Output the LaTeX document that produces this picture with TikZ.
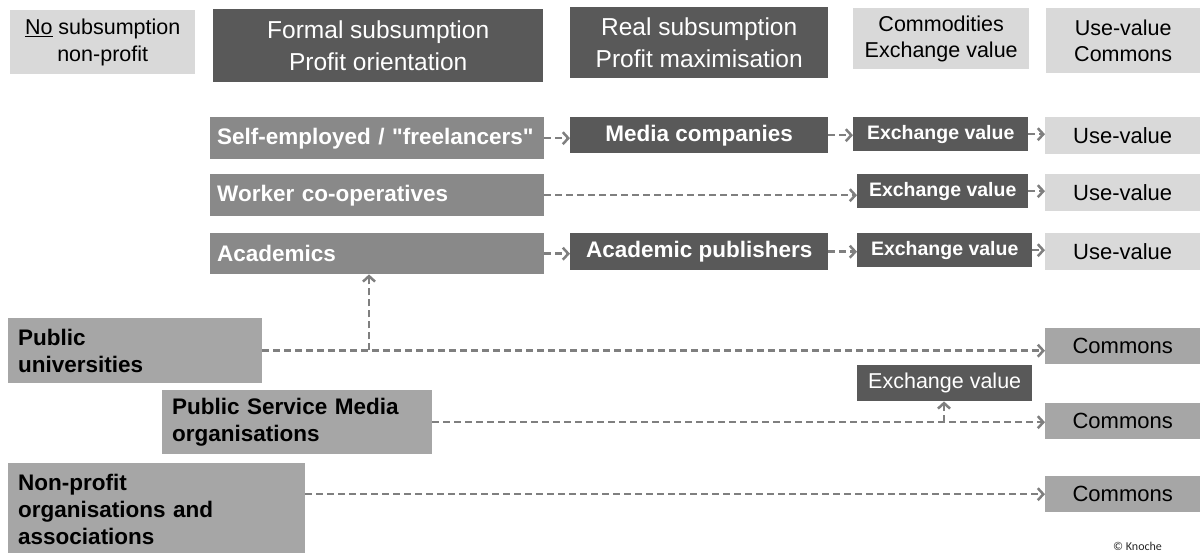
\documentclass[tikz,border=0pt]{standalone}
\usepackage{fontspec}
\setmainfont{Liberation Sans}[Ligatures=TeXOff]
\newfontfamily\carl{Carlito}
\usetikzlibrary{arrows.meta}
\definecolor{dk}{HTML}{595959}
\definecolor{md}{HTML}{898989}
\definecolor{lt}{HTML}{D9D9D9}
\definecolor{pb}{HTML}{A6A6A6}
\definecolor{ln}{HTML}{7F7F7F}
\begin{document}
\begin{tikzpicture}[x=1pt,y=-1pt,
  box/.style={draw=none, inner sep=0pt, anchor=north west},
  darkhead/.style={box, fill=dk, text=white, font=\fontsize{24.5}{32.5}\selectfont, align=center},
  lighthead/.style={box, fill=lt, text=black, font=\fontsize{21.5}{26.5}\selectfont, align=center},
  rowbox/.style={box, fill=md, text=white, font=\bfseries\fontsize{22.5}{27}\selectfont, align=left, inner xsep=7pt, text width=320pt},
  darkbox/.style={box, fill=dk, text=white, font=\bfseries\fontsize{22.5}{27}\selectfont},
  evbox/.style={box, fill=dk, text=white, font=\bfseries\fontsize{19.5}{24}\selectfont},
  usebox/.style={box, fill=lt, text=black, font=\fontsize{22}{26}\selectfont},
  combox/.style={box, fill=pb, text=black, font=\fontsize{22}{26}\selectfont},
  pubbox/.style={box, fill=pb, text=black, font=\bfseries\fontsize{22.5}{27}\selectfont, align=left, inner xsep=10pt},
  arr/.style={draw=ln, line width=2.5pt, dash pattern=on 7pt off 4pt, -{Straight Barb[length=5.5pt,width=12pt]}}
]
\useasboundingbox (0,0) rectangle (1200,553);

% header
\node[lighthead, minimum width=185pt, minimum height=64pt] (nosub) at (10,10) {\underline{No} subsumption\\non-profit};
\node[darkhead, minimum width=330pt, minimum height=73pt] (formal) at (213,9) {Formal subsumption\\Profit orientation};
\node[darkhead, minimum width=258pt, minimum height=71pt] (real) at (570,7) {Real subsumption\\Profit maximisation};
\node[lighthead, minimum width=176pt, minimum height=61pt] (commod) at (853,8) {Commodities\\Exchange value};
\node[lighthead, minimum width=154pt, minimum height=65pt] (usec) at (1046,8) {Use-value\\Commons};

% row 1
\node[rowbox, minimum width=334pt, minimum height=42pt] (se) at (210,117) {Self-employed / "freelancers"};
\node[darkbox, minimum width=258pt, minimum height=36pt] (mc) at (570,117) {Media companies};
\node[evbox, minimum width=175pt, minimum height=34pt] (ev1) at (853,117) {Exchange value};
\node[usebox, minimum width=155pt, minimum height=37pt] (uv1) at (1045,117) {Use-value};
% row 2
\node[rowbox, minimum width=334pt, minimum height=42pt] (wc) at (210,174) {Worker co-operatives};
\node[evbox, minimum width=171pt, minimum height=34pt] (ev2) at (857,174) {Exchange value};
\node[usebox, minimum width=155pt, minimum height=37pt] (uv2) at (1045,174) {Use-value};
% row 3
\node[rowbox, minimum width=334pt, minimum height=41pt] (ac) at (210,233) {Academics};
\node[darkbox, minimum width=258pt, minimum height=37pt] (ap) at (570,233) {Academic publishers};
\node[evbox, minimum width=175pt, minimum height=34pt] (ev3) at (857,233) {Exchange value};
\node[usebox, minimum width=155pt, minimum height=37pt] (uv3) at (1045,233) {Use-value};

% public / non-profit
\node[pubbox, minimum width=254pt, minimum height=65pt, text width=234pt] (pu) at (8,318) {Public\\universities};
\node[pubbox, minimum width=270pt, minimum height=64pt, text width=250pt] (psm) at (162,390) {Public Service Media\\organisations};
\node[pubbox, minimum width=297pt, minimum height=92pt, text width=277pt] (np) at (8,463) {Non-profit\\organisations and\\associations};
\node[combox, minimum width=155pt, minimum height=36pt] (c1) at (1045,328) {Commons};
\node[box, fill=dk, text=white, font=\fontsize{21.5}{26}\selectfont, minimum width=175pt, minimum height=36pt] (evp) at (857,365) {Exchange value};
\node[combox, minimum width=155pt, minimum height=36pt] (c2) at (1045,403) {Commons};
\node[combox, minimum width=155pt, minimum height=36pt] (c3) at (1045,476) {Commons};

\node[anchor=base west, inner sep=0pt, font=\carl\fontsize{12}{14}\selectfont, text=black!85] (copy) at (1113,550) {© Knoche};

% connectors
\draw[arr] (se.east) -- (se.east -| mc.west);
\draw[arr] (mc.east) -- (mc.east -| ev1.west);
\draw[arr] (ev1.east) -- (ev1.east -| uv1.west);
\draw[arr] (wc.east) -- (wc.east -| ev2.west);
\draw[arr] (ev2.east) -- (ev2.east -| uv2.west);
\draw[arr] (ac.east) -- (ac.east -| ap.west);
\draw[arr] (ap.east) -- (ap.east -| ev3.west);
\draw[arr] (ev3.east) -- (ev3.east -| uv3.west);

\draw[arr] (pu.east) -- (pu.east -| c1.west);
\coordinate (j1) at (369,350.5);
\draw[arr] (j1) -- (j1 |- ac.south);
\draw[arr] (psm.east) -- (psm.east -| c2.west);
\coordinate (j2) at (944,422);
\draw[arr] (j2) -- (j2 |- evp.south);
\draw[arr] (c3.west -| np.east) -- (c3.west);
\end{tikzpicture}
\end{document}
